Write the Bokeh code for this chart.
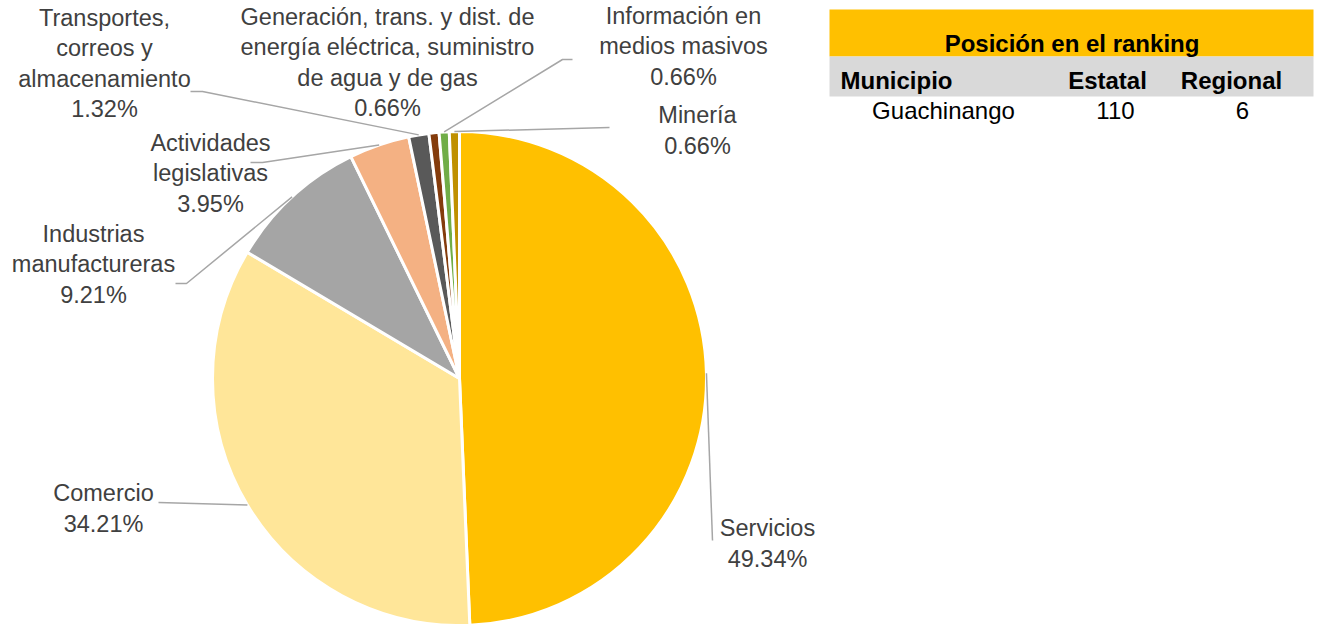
import math
from bokeh.plotting import figure
from bokeh.models import Range1d
from bokeh.core.properties import value
from bokeh.embed import file_html
from bokeh.resources import INLINE

# ---------------- data ----------------
sectors = [
    "Servicios",
    "Comercio",
    "Industrias\nmanufactureras",
    "Actividades\nlegislativas",
    "Transportes,\ncorreos y\nalmacenamiento",
    "Generación, trans. y dist. de\nenergía eléctrica, suministro\nde agua y de gas",
    "Información en\nmedios masivos",
    "Minería",
]
shares = [49.34, 34.21, 9.21, 3.95, 1.32, 0.66, 0.66, 0.66]
colors = ["#FFC000", "#FFE699", "#A5A5A5", "#F4B183", "#595959", "#843C0C", "#70AD47", "#BF9000"]

table_title = "Posición en el ranking"
table_header = ["Municipio", "Estatal", "Regional"]
table_row = ["Guachinango", "110", "6"]

# ---------------- layout (image pixel coordinates) ----------------
W, H = 1316, 624


def Y(img_y):
    return 624 - img_y


CX, CY, R = 459, 378, 247
label_pos = [(767, 543), (103, 508), (93, 264), (210, 173), (104, 63), (387, 62), (683, 46), (697, 130)]
leader_pts = [
    [(712, 540)],
    [(158, 502)],
    [(186, 283), (175, 283)],
    [(262, 162), (250, 162)],
    [(202, 91), (190, 91)],
    None,
    [(562, 59), (572, 59)],
    [(609, 127)],
]

FONT = value("Liberation Sans")

p = figure(width=W, height=H, x_range=Range1d(0, W), y_range=Range1d(624 - H, 624),
           output_backend="svg", toolbar_location=None, min_border=0)
p.axis.visible = False
p.grid.visible = False
p.outline_line_color = None
p.background_fill_color = "white"
p.border_fill_color = "white"

total = sum(shares)
start = math.pi / 2
mids = []
for s, c in zip(shares, colors):
    a1 = start
    a2 = start - s / total * 2 * math.pi
    p.wedge(x=CX, y=Y(CY), radius=R, start_angle=a2, end_angle=a1,
            fill_color=c, line_color="white", line_width=3)
    mids.append((a1 + a2) / 2)
    start = a2

# leader lines
for mid, pts in zip(mids, leader_pts):
    if pts is None:
        continue
    ex = CX + R * math.cos(mid)
    ey = CY - R * math.sin(mid)
    xs = [ex] + [q[0] for q in pts]
    ys = [Y(ey)] + [Y(q[1]) for q in pts]
    p.line(xs, ys, line_color="#A6A6A6", line_width=1.5)

# labels
texts = [f"{n}\n{s:.2f}%" for n, s in zip(sectors, shares)]
p.text(x=[q[0] for q in label_pos], y=[Y(q[1]) for q in label_pos], text=texts,
       text_font=FONT, text_font_size="23.5px", text_color="#404040",
       text_align="center", text_baseline="middle", text_line_height=1.17)

# ranking table
p.quad(left=829, right=1313, top=Y(9), bottom=Y(56), fill_color="#FFC000", line_color=None)
p.quad(left=829, right=1313, top=Y(56), bottom=Y(96), fill_color="#D9D9D9", line_color=None)
p.text(x=[1071.5], y=[Y(43)], text=[table_title], text_font=FONT, text_font_size="24px",
       text_font_style="bold", text_color="black", text_align="center", text_baseline="middle")
p.text(x=[840], y=[Y(80)], text=[table_header[0]], text_font=FONT, text_font_size="24px",
       text_font_style="bold", text_color="black", text_align="left", text_baseline="middle")
p.text(x=[1107, 1231], y=[Y(80), Y(80)], text=table_header[1:], text_font=FONT, text_font_size="24px",
       text_font_style="bold", text_color="black", text_align="center", text_baseline="middle")
p.text(x=[943, 1115, 1242], y=[Y(110)] * 3, text=table_row, text_font=FONT, text_font_size="24px",
       text_color="black", text_align="center", text_baseline="middle")

open("out.html", "w").write(file_html(p, INLINE))
